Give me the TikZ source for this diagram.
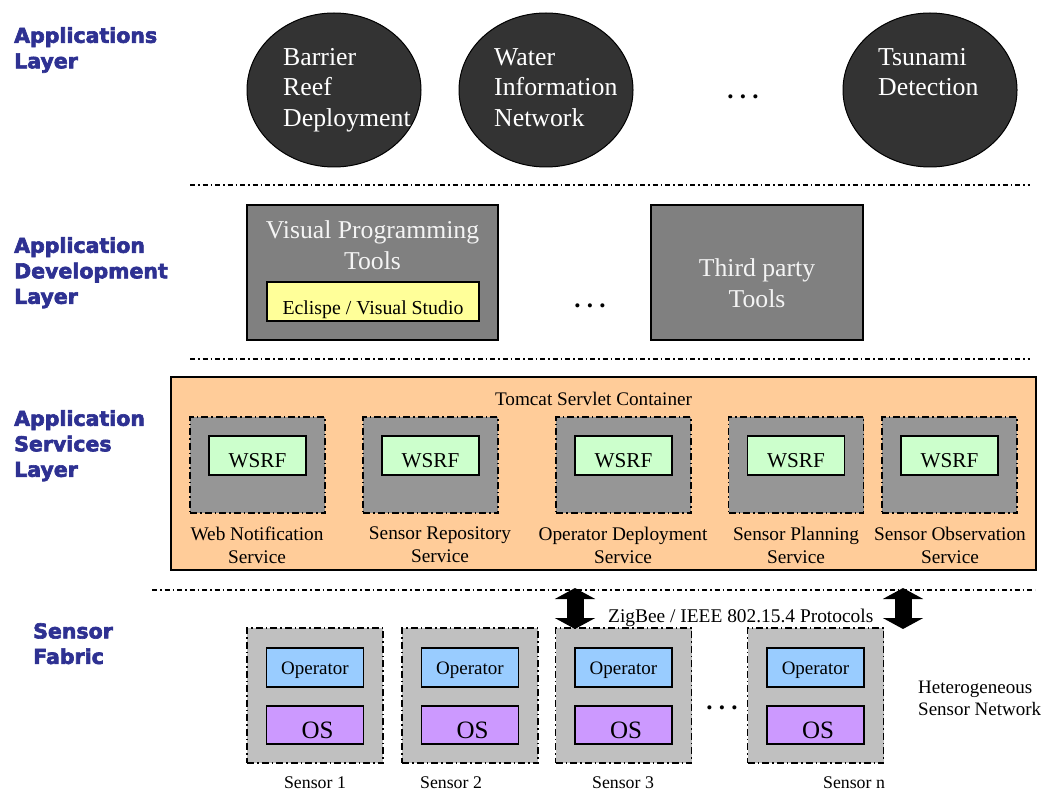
\documentclass[tikz,border=0pt]{standalone}
\usepackage{fontspec}
\setmainfont{Liberation Serif}
\newfontfamily\layerfont[BoldFeatures={FakeBold=3}]{DejaVu Sans}
\usetikzlibrary{arrows.meta,shapes.geometric}
\definecolor{layerblue}{RGB}{46,49,146}
\definecolor{appgray}{HTML}{333333}
\definecolor{toolgray}{HTML}{808080}
\definecolor{eclyellow}{HTML}{FFFF99}
\definecolor{peach}{HTML}{FFCC99}
\definecolor{svcgray}{HTML}{969696}
\definecolor{wsrfgreen}{HTML}{CCFFCC}
\definecolor{sensgray}{HTML}{C0C0C0}
\definecolor{opblue}{HTML}{99CCFF}
\definecolor{ospurple}{HTML}{CC99FF}
\definecolor{lighttext}{HTML}{F4F4F4}
\begin{document}
\begin{tikzpicture}[x=1pt,y=-1pt,
  layerlbl/.style={anchor=north west, align=left, inner sep=0, text=layerblue,
    font=\layerfont\bfseries\fontsize{20.5}{25.5}\selectfont},
  appnode/.style={ellipse, draw=black, line width=1pt, fill=appgray,
    minimum width=174, minimum height=154, inner sep=0},
  apptext/.style={anchor=north west, align=left, inner sep=0, text=white,
    font=\fontsize{25.8}{30.5}\selectfont},
  sepline/.style={line width=1.3pt, dash pattern=on 5pt off 3pt on 1.5pt off 3pt},
  toolbox/.style={draw=black, line width=1.3pt, fill=toolgray, minimum width=251,
    minimum height=135, inner sep=0},
  tooltext/.style={anchor=north, align=center, inner sep=0, text=lighttext,
    font=\fontsize{25.7}{31}\selectfont},
  bigdots/.style={anchor=base, inner sep=0, font=\bfseries\fontsize{25}{30}\selectfont},
  dashbox/.style={draw=black, line width=1.2pt, dash pattern=on 7pt off 3pt on 1.5pt off 3pt,
    inner sep=0},
  svcbox/.style={dashbox, fill=svcgray, minimum width=135, minimum height=96},
  wsrf/.style={draw=black, line width=1.2pt, fill=wsrfgreen, minimum width=97,
    minimum height=39, inner sep=0},
  wsrftext/.style={anchor=base, inner sep=0, font=\fontsize{21.2}{25}\selectfont},
  svctext/.style={anchor=north, align=center, inner sep=0, font=\fontsize{19.3}{23}\selectfont},
  sensbox/.style={dashbox, fill=sensgray, minimum width=136, minimum height=135},
  opbox/.style={draw=black, line width=1.2pt, fill=opblue, minimum width=97,
    minimum height=39, inner sep=0},
  osbox/.style={draw=black, line width=1.2pt, fill=ospurple, minimum width=97,
    minimum height=38, inner sep=0},
  optext/.style={anchor=base, inner sep=0, font=\fontsize{19}{23}\selectfont},
  ostext/.style={anchor=base, inner sep=0, font=\fontsize{25}{30}\selectfont},
  senslbl/.style={anchor=base, inner sep=0, font=\fontsize{17.8}{20}\selectfont},
  fatarrow/.style={line width=17pt, {Triangle[width=40pt,length=11pt]}-{Triangle[width=40pt,length=11pt]}}
]
\useasboundingbox (0,0) rectangle (1043,791);
\fill[white] (0,0) rectangle (1043,791);

% ---------- layer labels
\node[layerlbl] (lApp) at (14,27) {Applications\\Layer};
\node[layerlbl] (lDev) at (14,237) {Application\\Development\\Layer};
\node[layerlbl] (lSvc) at (14,410) {Application\\Services\\Layer};
\node[layerlbl] (lSen) at (33,623) {Sensor\\Fabric};

% ---------- applications layer
\node[appnode] (reef) at (334,90) {};
\node[appnode] (water) at (546,90) {};
\node[appnode] (tsunami) at (930,90) {};
\node[apptext] (reefT) at (283,48) {Barrier\\Reef\\Deployment};
\node[apptext] (waterT) at (494,48) {Water\\Information\\Network};
\node[apptext] (tsunamiT) at (878,48) {Tsunami\\Detection};
\node[bigdots] (appdots) at (743,99) {.\ .\ .};

\draw[sepline] (190,185) -- (1030,185);

% ---------- application development layer
\node[toolbox] (vpt) at (372.5,272.5) {};
\node[tooltext] (vptT) at (372.5,220) {Visual Programming\\Tools};
\node[draw=black, line width=1.2pt, fill=eclyellow, minimum width=212, minimum height=39,
      inner sep=0] (ecl) at (373,301.5) {};
\node[anchor=base, inner sep=0, font=\fontsize{19.8}{23}\selectfont] (eclT) at (373,315)
      {Eclispe / Visual Studio};
\node[bigdots] (devdots) at (590,308) {.\ .\ .};
\node[toolbox, minimum width=212] (tpt) at (757,272.5) {};
\node[tooltext] (tptT) at (757,258) {Third party\\Tools};

\draw[sepline] (190,359) -- (1030,359);

% ---------- application services layer
\node[draw=black, line width=1.5pt, fill=peach, minimum width=865, minimum height=193,
      inner sep=0] (tomcat) at (603.5,473.5) {};
\node[anchor=base, inner sep=0, font=\fontsize{19.2}{22}\selectfont] (tomcatT) at (593.5,405)
      {Tomcat Servlet Container};

\foreach \n/\x/\lx/\lbl in {1/257.5/257/{Web Notification},
                            2/430.5/440/{Sensor Repository},
                            3/623.5/623/{Operator Deployment},
                            4/796/796/{Sensor Planning},
                            5/949.5/950/{Sensor Observation}}{
  \node[svcbox] (svc\n) at (\x,465) {};
  \node[wsrf] (wsrf\n) at (\x,455.5) {};
  \node[wsrftext] (wsrfT\n) at (\x,467) {WSRF};
  \node[svctext] (svcT\n) at (\lx,527) {\lbl\\Service};
}

\draw[sepline] (152,590) -- (1035,590);

% ---------- sensor fabric
\foreach \n/\x/\lx/\lbl in {1/315/315/{Sensor 1},
                            2/470/451/{Sensor 2},
                            3/623.5/623/{Sensor 3},
                            4/815.5/854/{Sensor n}}{
  \node[sensbox] (sens\n) at (\x,695.5) {};
  \node[opbox] (op\n) at (\x,667.5) {};
  \node[optext] (opT\n) at (\x,674) {Operator};
  \node[osbox] (os\n) at (\x,725) {};
  \node[ostext] (osT\n) at (\x+2.5,738) {OS};
  \node[senslbl] (sensT\n) at (\lx,788) {\lbl};
}
\node[bigdots] (sendots) at (722,709) {.\ .\ .};

\coordinate (a1top) at (575,588);
\coordinate (a1bot) at (575,629);
\coordinate (a2top) at (903,588);
\coordinate (a2bot) at (903,629);
\draw[fatarrow] (a1top) -- (a1bot);
\draw[fatarrow] (a2top) -- (a2bot);

\node[anchor=base west, inner sep=0, font=\fontsize{19.4}{23}\selectfont] (zig) at (608,622)
      {ZigBee / IEEE 802.15.4 Protocols};
\node[anchor=north west, align=left, inner sep=0, font=\fontsize{19}{22}\selectfont] (het)
      at (918,681) {Heterogeneous\\Sensor Network};
\end{tikzpicture}
\end{document}
